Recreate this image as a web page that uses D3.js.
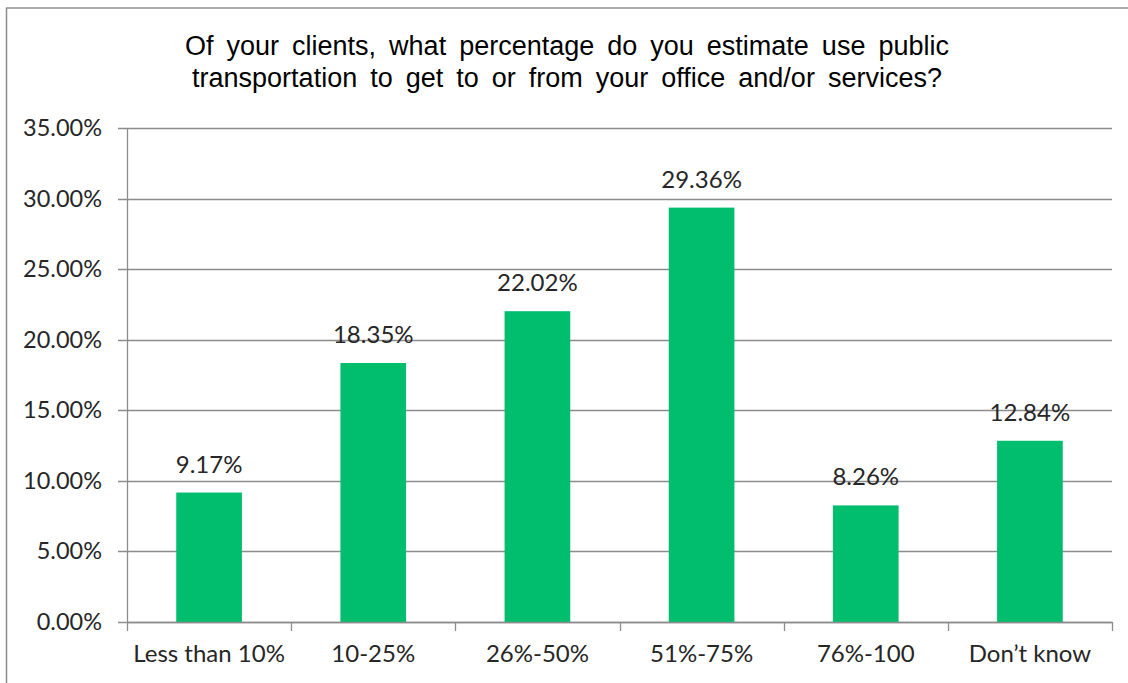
<!DOCTYPE html>
<html>
<head>
<meta charset="utf-8">
<script src="https://cdn.jsdelivr.net/npm/d3@7"></script>
<style>
  body { margin: 0; background: #fff; }
  svg { display: block; }
</style>
</head>
<body>
<script>
var categories = ['Less than 10%', '10-25%', '26%-50%', '51%-75%', '76%-100', 'Don\u2019t know'];
var values = [9.17, 18.35, 22.02, 29.36, 8.26, 12.84];
var yTicks = [0, 5, 10, 15, 20, 25, 30, 35];
var titleLines = ['Of your clients, what percentage do you estimate use public',
                  'transportation to get to or from your office and/or services?'];

var W = 1128, H = 683;
var margin = {top: 128, right: 16, bottom: 61, left: 127};
var width = W - margin.left - margin.right;
var height = H - margin.top - margin.bottom;

var svg = d3.select('body').append('svg')
  .attr('width', W)
  .attr('height', H);

// outer frame (only top and left edges show)
svg.append('line')
  .attr('x1', 6).attr('x2', W)
  .attr('y1', 8).attr('y2', 8)
  .attr('stroke', '#8c8c8c').attr('stroke-width', 1.5);
svg.append('line')
  .attr('x1', 6.5).attr('x2', 6.5)
  .attr('y1', 8).attr('y2', H)
  .attr('stroke', '#8c8c8c').attr('stroke-width', 1.5);

svg.append('g').selectAll('text')
  .data(titleLines)
  .enter().append('text')
  .attr('x', 567)
  .attr('y', function(d, i) { return 55 + i * 32; })
  .attr('text-anchor', 'middle')
  .attr('font-family', 'Liberation Sans, Arial, sans-serif')
  .attr('font-size', 27)
  .attr('word-spacing', 5.5)
  .attr('fill', '#000')
  .text(function(d) { return d; });

var g = svg.append('g')
  .attr('transform', 'translate(' + margin.left + ',' + margin.top + ')');

var x = d3.scaleBand()
  .domain(categories)
  .range([0, width])
  .paddingInner(0.6)
  .paddingOuter(0.3);

var y = d3.scaleLinear()
  .domain([0, 35])
  .range([height, 0]);

// gridlines
g.append('g').selectAll('line')
  .data(yTicks)
  .enter().append('line')
  .attr('x1', -9).attr('x2', width)
  .attr('y1', function(d) { return Math.round(y(d)) + 0.5; })
  .attr('y2', function(d) { return Math.round(y(d)) + 0.5; })
  .attr('stroke', '#8c8c8c')
  .attr('stroke-width', 1.3);

// y labels
g.append('g').selectAll('text')
  .data(yTicks)
  .enter().append('text')
  .attr('x', -25)
  .attr('y', function(d) { return y(d) + 8; })
  .attr('text-anchor', 'end')
  .attr('font-family', 'Lato, sans-serif')
  .attr('font-size', 23.5)
  .attr('fill', '#262626')
  .text(function(d) { return d.toFixed(2) + '%'; });

// bars
g.selectAll('.bar')
  .data(values)
  .enter().append('rect')
  .attr('class', 'bar')
  .attr('x', function(d, i) { return x(categories[i]); })
  .attr('width', x.bandwidth())
  .attr('y', function(d) { return y(d); })
  .attr('height', function(d) { return height - y(d); })
  .attr('fill', '#00be6e');

// value labels
g.selectAll('.lbl')
  .data(values)
  .enter().append('text')
  .attr('class', 'lbl')
  .attr('x', function(d, i) { return x(categories[i]) + x.bandwidth() / 2; })
  .attr('y', function(d) { return y(d) - 20; })
  .attr('text-anchor', 'middle')
  .attr('font-family', 'Lato, sans-serif')
  .attr('font-size', 24)
  .attr('fill', '#262626')
  .text(function(d) { return d.toFixed(2) + '%'; });

// y axis line
g.append('line')
  .attr('x1', 0.5).attr('x2', 0.5)
  .attr('y1', 0).attr('y2', height)
  .attr('stroke', '#8c8c8c')
  .attr('stroke-width', 1.3);

// x axis
var xAxis = g.append('g')
  .attr('transform', 'translate(0,' + height + ')')
  .call(d3.axisBottom(x).tickSize(0).tickPadding(23));
xAxis.select('.domain').attr('stroke', '#8c8c8c').attr('stroke-width', 1.3);
xAxis.selectAll('text')
  .attr('font-family', 'Lato, sans-serif')
  .attr('font-size', 24)
  .attr('fill', '#262626');

// category boundary ticks
g.append('g').selectAll('line')
  .data(d3.range(categories.length + 1))
  .enter().append('line')
  .attr('x1', function(i) { return Math.round(i * width / categories.length) + 0.5; })
  .attr('x2', function(i) { return Math.round(i * width / categories.length) + 0.5; })
  .attr('y1', height).attr('y2', height + 9)
  .attr('stroke', '#8c8c8c')
  .attr('stroke-width', 1.3);
</script>
</body>
</html>
